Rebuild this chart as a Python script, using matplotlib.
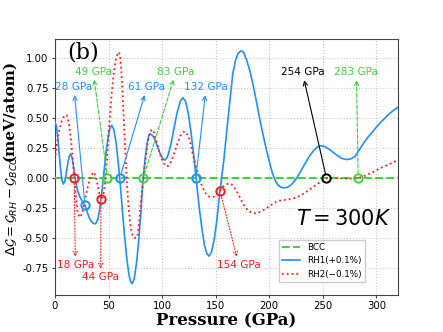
import matplotlib
matplotlib.use('Agg')
import matplotlib.pyplot as plt

plt.rcParams['axes.unicode_minus'] = False

# RH1 (+0.1%) curve
p_rh1 = [0, 1.3, 2.6, 3.9, 5.2, 6.5, 7.8, 8.9, 10.1, 11.2, 12.3, 13.5, 14.6, 16, 17.5, 19, 21, 23.5, 26,
         28, 30, 32, 34, 36, 38, 40, 42, 44, 46, 48, 50, 51.5, 53, 55, 57, 59, 61, 63, 65, 67, 69, 70.5,
         72, 74, 76, 78, 80, 82, 84, 86, 87.5, 89, 92, 95, 98, 100.5, 102.6, 105, 108, 111, 114, 117,
         119.5, 122, 124.5, 127, 129.5, 132, 134.5, 137, 139.5, 141.5, 143.7, 146, 148.5, 151, 153.5,
         155.5, 157.5, 160, 163, 166, 168.5, 171, 173.5, 176, 179, 182, 185, 188, 191, 194, 197, 200,
         203, 206, 209, 212, 214.6, 217, 220, 223, 226, 230, 234, 238, 242, 245, 248, 252, 256, 260,
         264, 268, 272, 276, 280, 284, 288, 292, 296, 300, 304, 308, 312, 316, 320]
g_rh1 = [0.47, 0.435, 0.34, 0.21, 0.08, -0.015, -0.05, -0.033, 0.013, 0.075, 0.138, 0.183, 0.20, 0.17,
         0.09, -0.01, -0.10, -0.16, -0.20, -0.225, -0.28, -0.33, -0.36, -0.378, -0.38, -0.345, -0.245,
         -0.097, 0.073, 0.235, 0.362, 0.42, 0.44, 0.404, 0.30, 0.14, -0.056, -0.274, -0.484, -0.665,
         -0.80, -0.86, -0.88, -0.838, -0.717, -0.54, -0.314, -0.04, 0.15, 0.29, 0.35, 0.37, 0.345, 0.28,
         0.207, 0.162, 0.15, 0.175, 0.27, 0.41, 0.545, 0.642, 0.67, 0.636, 0.538, 0.38, 0.19, -0.023,
         -0.233, -0.41, -0.556, -0.624, -0.65, -0.62, -0.52, -0.36, -0.15, 0.0, 0.14, 0.36, 0.62, 0.87,
         0.98, 1.04, 1.06, 1.05, 0.98, 0.89, 0.775, 0.64, 0.50, 0.37, 0.25, 0.14, 0.04, -0.03, -0.065,
         -0.08, -0.08, -0.076, -0.059, -0.031, 0.006, 0.067, 0.13, 0.19, 0.235, 0.26, 0.27, 0.262, 0.24,
         0.212, 0.185, 0.163, 0.155, 0.16, 0.18, 0.235, 0.29, 0.34, 0.38, 0.425, 0.465, 0.50, 0.535,
         0.565, 0.59]

# RH2 (-0.1%) curve
p_rh2 = [0, 2, 4, 6, 8.5, 11, 13, 15, 16.5, 18, 19.5, 21, 22.5, 24, 26, 28.5, 31, 33.5, 36, 38, 40, 42,
         43.5, 45, 46.6, 48.5, 50.5, 52.9, 55, 57, 58.5, 59.7, 61, 62.5, 63.7, 65, 66.9, 68.5, 70, 71.5,
         73, 75, 76.8, 78, 79.5, 81, 82.4, 84, 86, 88, 90.2, 92, 95, 98, 101, 103.5, 105.7, 108, 111,
         114, 117, 120, 122, 124.5, 127, 129.5, 132, 134.5, 137, 140, 143, 146, 148.5, 151, 154, 157,
         160, 163, 166, 169, 172, 176, 180, 184, 188, 192, 196, 200, 204, 208, 212, 216, 220, 224, 228,
         232, 236, 240, 244, 248, 252, 254, 260, 266, 272, 278, 283, 288, 293, 298, 303, 308, 314, 320]
g_rh2 = [0.15, 0.29, 0.40, 0.47, 0.515, 0.525, 0.46, 0.32, 0.16, 0.0, -0.15, -0.27, -0.32, -0.325,
         -0.27, -0.16, -0.06, 0.02, 0.05, 0.02, -0.07, -0.15, -0.18, -0.15, -0.06, 0.15, 0.42, 0.70,
         0.88, 0.99, 1.035, 1.05, 1.0, 0.82, 0.59, 0.35, 0.0, -0.22, -0.36, -0.45, -0.49, -0.5, -0.49,
         -0.42, -0.27, -0.12, 0.0, 0.12, 0.26, 0.36, 0.405, 0.39, 0.30, 0.20, 0.13, 0.10, 0.10, 0.13,
         0.20, 0.28, 0.35, 0.385, 0.386, 0.35, 0.27, 0.17, 0.08, 0.01, -0.06, -0.12, -0.15, -0.16,
         -0.155, -0.135, -0.105, -0.07, -0.05, -0.045, -0.06, -0.10, -0.15, -0.22, -0.27, -0.29, -0.295,
         -0.28, -0.26, -0.235, -0.21, -0.19, -0.185, -0.18, -0.175, -0.165, -0.15, -0.13, -0.105, -0.08,
         -0.055, -0.03, -0.01, 0.0, 0.0, -0.002, -0.004, -0.003, 0.0, 0.015, 0.035, 0.055, 0.08, 0.10,
         0.125, 0.15]

p_bcc = [0, 320]
g_bcc = [0, 0]

# marked transition points
pts_red_p = [18, 43, 154]
pts_red_g = [0, -0.17, -0.105]
pts_blue_p = [28, 60.6, 131.5]
pts_blue_g = [-0.225, 0, 0]
pts_green_p = [49, 82.4, 283]
pts_green_g = [0, 0, 0]
pts_black_p = [253.4]
pts_black_g = [0]

labels = ['18 GPa', '44 GPa', '154 GPa', '28 GPa', '61 GPa', '132 GPa',
          '49 GPa', '83 GPa', '283 GPa', '254 GPa']

BLUE = '#1e90ff'
GREEN = '#3ed43e'
RED = '#ff1a1a'

fig = plt.figure(figsize=(4.43, 3.32), dpi=100)
ax = fig.add_axes([0.124, 0.111, 0.774, 0.772])

ax.plot(p_bcc, g_bcc, '--', color=GREEN, lw=1.5, label='BCC', zorder=3)
ax.plot(p_rh1, g_rh1, '-', color=BLUE, lw=1.2, label='RH1(+0.1%)', zorder=4)
ax.plot(p_rh2, g_rh2, ':', color=RED, lw=1.3, label='RH2(\u22120.1%)', zorder=4)

mk = dict(marker='o', ms=6, mfc='none', mew=1.4, ls='none', zorder=6)
ax.plot(pts_red_p, pts_red_g, mec=RED, **mk)
ax.plot(pts_blue_p, pts_blue_g, mec=BLUE, **mk)
ax.plot(pts_green_p, pts_green_g, mec=GREEN, **mk)
ax.plot(pts_black_p, pts_black_g, mec='black', **mk)

# label, colour, arrow linestyle, point, text position
arrows = [
    (labels[0], RED, ':', (pts_red_p[0], pts_red_g[0]), (19.1, -0.72)),
    (labels[1], RED, ':', (pts_red_p[1], pts_red_g[1]), (42.7, -0.82)),
    (labels[2], RED, ':', (pts_red_p[2], pts_red_g[2]), (171.5, -0.72)),
    (labels[3], BLUE, '-', (pts_blue_p[0], pts_blue_g[0]), (17.7, 0.756)),
    (labels[4], BLUE, '-', (pts_blue_p[1], pts_blue_g[1]), (85.8, 0.756)),
    (labels[5], BLUE, '-', (pts_blue_p[2], pts_blue_g[2]), (141.1, 0.756)),
    (labels[6], GREEN, '--', (pts_green_p[0], pts_green_g[0]), (35.7, 0.886)),
    (labels[7], GREEN, '--', (pts_green_p[1], pts_green_g[1]), (113, 0.886)),
    (labels[8], GREEN, '--', (pts_green_p[2], pts_green_g[2]), (281.4, 0.88)),
    (labels[9], 'black', '-', (pts_black_p[0], pts_black_g[0]), (231, 0.88)),
]
for txt, c, ls, xy, xyt in arrows:
    ax.annotate(txt, xy=xy, xytext=xyt, color=c, fontsize=7.6, ha='center', va='center',
                arrowprops=dict(arrowstyle='<-', color=c, lw=0.8, ls=ls, shrinkA=0, shrinkB=3),
                zorder=7)

ax.text(0.082, 0.945, '(b)', transform=ax.transAxes, fontsize=16, family='serif',
        ha='center', va='center')
ax.text(269.6, -0.34, '$T = 300K$', fontsize=15, ha='center', va='center')

ax.set_xlim(0, 320)
ax.set_ylim(-0.975, 1.16)
ax.set_xticks([0, 50, 100, 150, 200, 250, 300])
ax.set_yticks([-0.75, -0.5, -0.25, 0, 0.25, 0.5, 0.75, 1.0])
ax.tick_params(labelsize=7.3, length=2, pad=2.5, color='#444444')
ax.grid(True, ls=':', color='#c8c8c8', lw=0.8)
for s in ax.spines.values():
    s.set_color('#444444')

# axis labels placed by hand (math part smaller than the bold text)
fig.text(226.5 / 443, 1 - 321 / 332, 'Pressure (GPa)', family='serif', fontweight='bold',
         fontsize=12, ha='center', va='center')
fig.text(12.5 / 443, 1 - 206 / 332, r'$\Delta \mathcal{G} = \mathcal{G}_{RH} - \mathcal{G}_{BCC}$',
         fontsize=9.5, rotation=90, ha='center', va='center')
fig.text(9.5 / 443, 1 - 110 / 332, '(meV/atom)', family='serif', fontweight='bold',
         fontsize=11, rotation=90, ha='center', va='center')

ax.legend(loc='lower right', bbox_to_anchor=(0.904, 0.05), borderaxespad=0, fontsize=6.3,
          framealpha=1, edgecolor='#cccccc', fancybox=False)

fig.savefig('out.png', dpi=100)
